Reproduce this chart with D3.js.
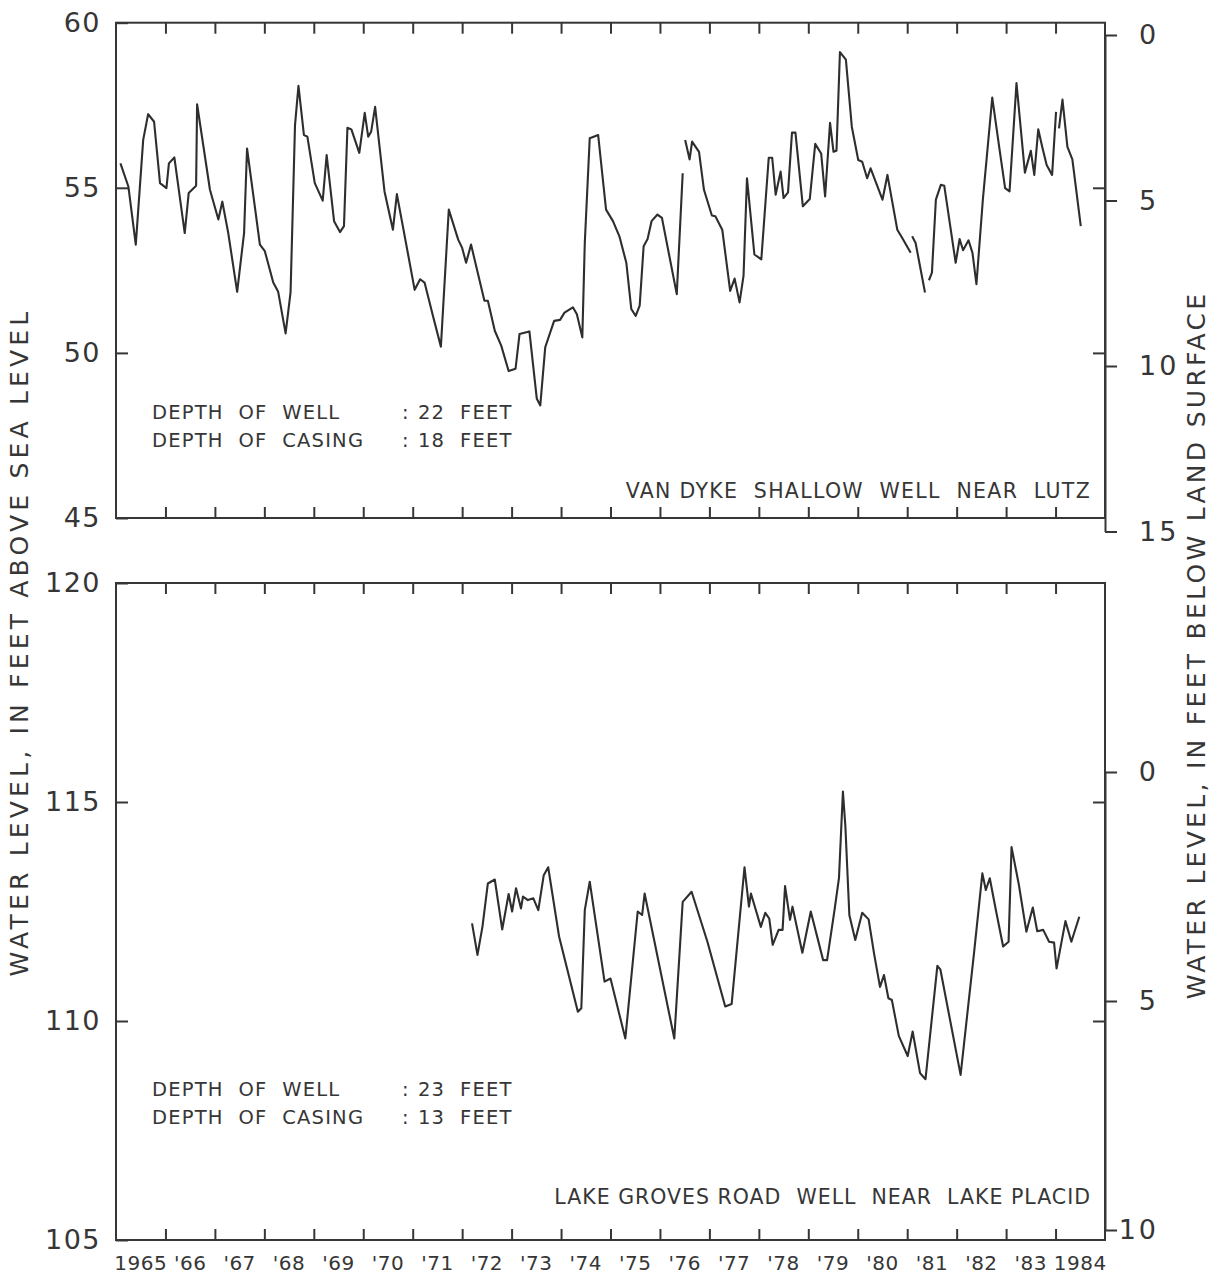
<!DOCTYPE html>
<html>
<head>
<meta charset="utf-8">
<script src="https://cdn.jsdelivr.net/npm/d3@7"></script>
<style>
  html, body { margin: 0; padding: 0; background: #fff; }
  svg { display: block; }
  text { font-family: "DejaVu Sans", "Liberation Sans", sans-serif; fill: #363636; }
</style>
</head>
<body>
<svg id="chart" width="1220" height="1282"></svg>
<script>
// ---------------- DATA ----------------
const xTickLabels = ["1965","'66","'67","'68","'69","'70","'71","'72","'73","'74","'75","'76","'77","'78","'79","'80","'81","'82","'83","1984"];
const labelYears = [1965,1966,1967,1968,1969,1970,1971,1972,1973,1974,1975,1976,1977,1978,1979,1980,1981,1982,1983,1984];
const yearTicks = [1966,1967,1968,1969,1970,1971,1972,1973,1974,1975,1976,1977,1978,1979,1980,1981,1982,1983,1984];

const topLeftTicks = [45, 50, 55, 60];
const topRightTicks = [0, 5, 10, 15];
const botLeftTicks = [105, 110, 115, 120];
const botRightTicks = [0, 5, 10];

// Van Dyke shallow well near Lutz (feet above sea level); null = gap in record
const topYears = [
 1965.09,1965.25,1965.40,1965.55,1965.65,1965.77,1965.89,1966.02,1966.07,1966.18,1966.39,1966.47,1966.62,1966.64,1966.90,
 1967.07,1967.15,1967.27,1967.45,1967.59,1967.65,1967.91,1968.01,1968.18,1968.28,1968.43,1968.53,1968.62,1968.69,1968.80,
 1968.87,1969.02,1969.18,1969.26,1969.41,1969.53,1969.61,1969.68,1969.76,1969.92,1970.03,1970.10,1970.16,1970.24,1970.43,
 1970.60,1970.68,1971.04,1971.15,1971.24,1971.41,1971.57,1971.73,1971.92,1972.00,1972.08,1972.18,1972.45,1972.52,1972.66,
 1972.79,1972.94,1973.08,1973.16,1973.36,1973.51,1973.58,1973.68,1973.86,1973.98,1974.07,1974.24,1974.32,1974.43,1974.48,
 1974.58,1974.75,1974.91,1975.05,1975.18,1975.32,1975.42,1975.51,1975.59,1975.67,1975.75,1975.83,1975.95,1976.04,1976.34,
 1976.46,1976.485,1976.51,1976.60,1976.65,1976.79,1976.89,1977.05,1977.12,1977.26,1977.42,1977.51,1977.61,1977.69,1977.76,
 1977.91,1978.05,1978.20,1978.27,1978.34,1978.44,1978.50,1978.59,1978.67,1978.74,1978.89,1979.03,1979.14,1979.26,1979.34,
 1979.44,1979.51,1979.57,1979.64,1979.76,1979.88,1980.01,1980.09,1980.19,1980.26,1980.50,1980.60,1980.80,1980.90,1981.07,
 1981.085,1981.10,1981.17,1981.36,1981.40,1981.44,1981.50,1981.58,1981.68,1981.75,1981.98,1982.06,1982.13,1982.24,1982.32,
 1982.40,1982.53,1982.72,1982.86,1982.98,1983.07,1983.21,1983.38,1983.50,1983.57,1983.65,1983.73,1983.82,1983.93,1984.01,
 1984.04,1984.07,1984.14,1984.24,1984.34,1984.51
];
const topLevels = [
 55.74,55.04,53.28,56.45,57.23,57.00,55.14,54.99,55.74,55.92,53.63,54.84,55.06,57.53,54.94,
 54.04,54.58,53.63,51.85,53.63,56.19,53.28,53.08,52.13,51.85,50.59,51.83,56.90,58.09,56.60,
 56.55,55.14,54.61,55.99,53.99,53.66,53.84,56.82,56.77,56.06,57.27,56.55,56.70,57.45,54.89,
 53.73,54.81,51.91,52.23,52.13,51.12,50.19,54.34,53.43,53.18,52.73,53.28,51.58,51.58,50.67,
 50.22,49.45,49.52,50.57,50.65,48.61,48.41,50.17,50.97,51.00,51.22,51.38,51.17,50.47,53.33,
 56.50,56.60,54.34,53.99,53.53,52.73,51.33,51.12,51.43,53.23,53.45,53.99,54.19,54.09,51.78,
 55.44,null,56.45,55.86,56.40,56.09,54.94,54.16,54.14,53.73,51.88,52.25,51.53,52.33,55.29,
 52.98,52.83,55.91,55.91,54.79,55.49,54.69,54.86,56.67,56.67,54.44,54.66,56.33,56.04,54.74,
 56.97,56.09,56.12,59.11,58.88,56.85,55.84,55.79,55.29,55.59,54.64,55.39,53.73,53.48,53.03,
 null,53.53,53.33,51.83,null,52.20,52.43,54.64,55.09,55.06,52.73,53.45,53.11,53.41,53.03,
 52.08,54.64,57.73,56.24,54.99,54.89,58.17,55.46,56.12,55.39,56.77,56.24,55.69,55.39,57.30,
 null,56.80,57.67,56.24,55.86,53.84
];

// Lake Groves Road well near Lake Placid (feet above sea level)
const botYears = [
 1972.20,1972.31,1972.41,1972.52,1972.66,1972.81,1972.94,1973.01,1973.09,1973.19,1973.23,1973.33,1973.44,1973.54,1973.65,
 1973.74,1973.96,1974.34,1974.41,1974.48,1974.58,1974.88,1975.00,1975.30,1975.55,1975.64,1975.69,1976.29,1976.46,1976.64,
 1976.96,1977.32,1977.45,1977.71,1977.80,1977.84,1978.04,1978.13,1978.21,1978.28,1978.40,1978.48,1978.53,1978.63,1978.68,
 1978.88,1979.05,1979.30,1979.38,1979.53,1979.62,1979.70,1979.75,1979.83,1979.95,1980.09,1980.22,1980.33,1980.45,1980.53,
 1980.62,1980.69,1980.83,1981.01,1981.11,1981.26,1981.37,1981.61,1981.67,1982.08,1982.35,1982.52,1982.59,1982.67,1982.79,
 1982.94,1983.05,1983.11,1983.26,1983.41,1983.54,1983.63,1983.75,1983.87,1983.97,1984.02,1984.20,1984.32,1984.48
];
const botLevels = [
 112.23,111.51,112.15,113.14,113.23,112.09,112.90,112.50,113.03,112.57,112.84,112.76,112.80,112.53,113.33,
 113.51,111.93,110.21,110.29,112.53,113.18,110.90,110.97,109.60,112.50,112.42,112.91,109.60,112.72,112.95,
 111.81,110.33,110.39,113.51,112.61,112.91,112.15,112.47,112.34,111.74,112.08,112.08,113.08,112.31,112.61,
 111.56,112.50,111.39,111.39,112.53,113.26,115.24,114.44,112.42,111.85,112.47,112.32,111.54,110.78,111.05,
 110.52,110.48,109.66,109.20,109.76,108.81,108.67,111.26,111.18,108.77,111.54,113.37,112.99,113.26,112.55,
 111.70,111.81,113.97,113.10,112.04,112.59,112.05,112.08,111.81,111.79,111.20,112.28,111.81,112.38
];

const topNotes = [["DEPTH  OF  WELL", "22  FEET"], ["DEPTH  OF  CASING", "18  FEET"]];
const botNotes = [["DEPTH  OF  WELL", "23  FEET"], ["DEPTH  OF  CASING", "13  FEET"]];
const topTitle = "VAN DYKE  SHALLOW  WELL  NEAR  LUTZ";
const botTitle = "LAKE GROVES ROAD  WELL  NEAR  LAKE PLACID";
const leftTitle = "WATER LEVEL, IN FEET ABOVE SEA LEVEL";
const rightTitle = "WATER LEVEL, IN FEET BELOW LAND SURFACE";

// ---------------- LAYOUT ----------------
const X0 = 116, X1 = 1105;
const INK = "#363636";
const svg = d3.select("#chart");

const x = d3.scaleLinear().domain([1965, 1985]).range([X0, X1]);

const panels = [
  { top: 22.7, bottom: 518, levelDomain: [45, 60], leftTicks: topLeftTicks,
    depthDomain: [0, 15], depthRange: [35, 531.5], rightTicks: topRightTicks, rightAnchor: "start",
    years: topYears, levels: topLevels, notes: topNotes, noteY: 413, title: topTitle, titleY: 492, titleSpacing: 1.3 },
  { top: 583, bottom: 1240, levelDomain: [105, 120], leftTicks: botLeftTicks,
    depthDomain: [0, 10], depthRange: [772, 1230], rightTicks: botRightTicks, rightAnchor: "end",
    years: botYears, levels: botLevels, notes: botNotes, noteY: 1090, title: botTitle, titleY: 1198, titleSpacing: 1.0 }
];

panels.forEach(p => {
  const g = svg.append("g");
  const y = d3.scaleLinear().domain(p.levelDomain).range([p.bottom, p.top]);
  const yd = d3.scaleLinear().domain(p.depthDomain).range(p.depthRange);

  // frame
  g.append("rect")
    .attr("x", X0).attr("y", p.top)
    .attr("width", X1 - X0).attr("height", p.bottom - p.top)
    .attr("fill", "none").attr("stroke", INK).attr("stroke-width", 2);

  // year ticks along top and bottom edges (inside)
  const xt = g.append("g").attr("transform", `translate(0,${p.top})`)
    .call(d3.axisBottom(x).tickValues(yearTicks).tickSize(11).tickFormat(""));
  const xb = g.append("g").attr("transform", `translate(0,${p.bottom})`)
    .call(d3.axisTop(x).tickValues(yearTicks).tickSize(11).tickFormat(""));
  [xt, xb].forEach(a => { a.select(".domain").remove(); a.selectAll("line").attr("stroke", INK).attr("stroke-width", 2); });

  // left axis: labels outside, ticks inside
  const la = g.append("g").attr("transform", `translate(${X0},0)`)
    .call(d3.axisLeft(y).tickValues(p.leftTicks).tickSizeInner(-12).tickSizeOuter(0).tickPadding(15).tickFormat(d3.format("d")));
  la.select(".domain").remove();
  la.selectAll("line").attr("stroke", INK).attr("stroke-width", 2);
  la.selectAll("text").attr("font-size", 27).attr("letter-spacing", 1.5)
    .attr("font-family", "DejaVu Sans, sans-serif").attr("fill", INK);

  // inner ticks on right frame edge for the left scale
  const ri = g.append("g").attr("transform", `translate(${X1},0)`)
    .call(d3.axisRight(y).tickValues(p.leftTicks.slice(1, -1)).tickSizeInner(-12).tickSizeOuter(0).tickFormat(""));
  ri.select(".domain").remove();
  ri.selectAll("line").attr("stroke", INK).attr("stroke-width", 2);

  // right depth axis: ticks outside
  const ra = g.append("g").attr("transform", `translate(${X1},0)`)
    .call(d3.axisRight(yd).tickValues(p.rightTicks).tickSizeInner(12).tickSizeOuter(0).tickPadding(22).tickFormat(d3.format("d")));
  ra.select(".domain").attr("stroke", INK).attr("stroke-width", 2);
  ra.selectAll("line").attr("stroke", INK).attr("stroke-width", 2);
  ra.selectAll("text").attr("font-size", 27).attr("letter-spacing", 3)
    .attr("font-family", "DejaVu Sans, sans-serif").attr("fill", INK);
  if (p.rightAnchor === "end") ra.selectAll("text").attr("text-anchor", "end").attr("x", 54);

  // hydrograph line
  const pts = p.years.map((yr, i) => ({ t: yr, v: p.levels[i] }));
  const line = d3.line().defined(d => d.v != null).x(d => x(d.t)).y(d => y(d.v));
  g.append("path").datum(pts)
    .attr("d", line).attr("fill", "none")
    .attr("stroke", "#2e2e2e").attr("stroke-width", 2.1).attr("stroke-linejoin", "round");

  // notes
  p.notes.forEach((n, i) => {
    const ty = p.noteY + i * 28;
    g.append("text").attr("x", 152).attr("y", ty).attr("font-size", 19.5).attr("letter-spacing", 1.2)
      .attr("dominant-baseline", "middle").style("white-space", "pre").text(n[0]);
    g.append("text").attr("x", 402).attr("y", ty).attr("font-size", 19.5)
      .attr("dominant-baseline", "middle").text(":");
    g.append("text").attr("x", 418).attr("y", ty).attr("font-size", 19.5).attr("letter-spacing", 1.2)
      .attr("dominant-baseline", "middle").style("white-space", "pre").text(n[1]);
  });

  // panel title
  g.append("text").attr("x", 1091).attr("y", p.titleY).attr("font-size", 20.5).attr("letter-spacing", p.titleSpacing)
    .attr("text-anchor", "end").attr("dominant-baseline", "middle").style("white-space", "pre").text(p.title);
});

// x tick labels centred on each year interval
svg.append("g").selectAll("text").data(labelYears).join("text")
  .attr("x", d => x(d + 0.5))
  .attr("y", 1264)
  .attr("text-anchor", "middle")
  .attr("dominant-baseline", "middle")
  .attr("font-size", 20).attr("letter-spacing", 0.5)
  .text((d, i) => xTickLabels[i]);

// axis titles
svg.append("text").attr("transform", "translate(21,642) rotate(-90)")
  .attr("text-anchor", "middle").attr("dominant-baseline", "middle")
  .attr("font-size", 25).attr("letter-spacing", 4.2).text(leftTitle);
svg.append("text").attr("transform", "translate(1198,645) rotate(-90)")
  .attr("text-anchor", "middle").attr("dominant-baseline", "middle")
  .attr("font-size", 25).attr("letter-spacing", 3.3).text(rightTitle);
</script>
</body>
</html>
